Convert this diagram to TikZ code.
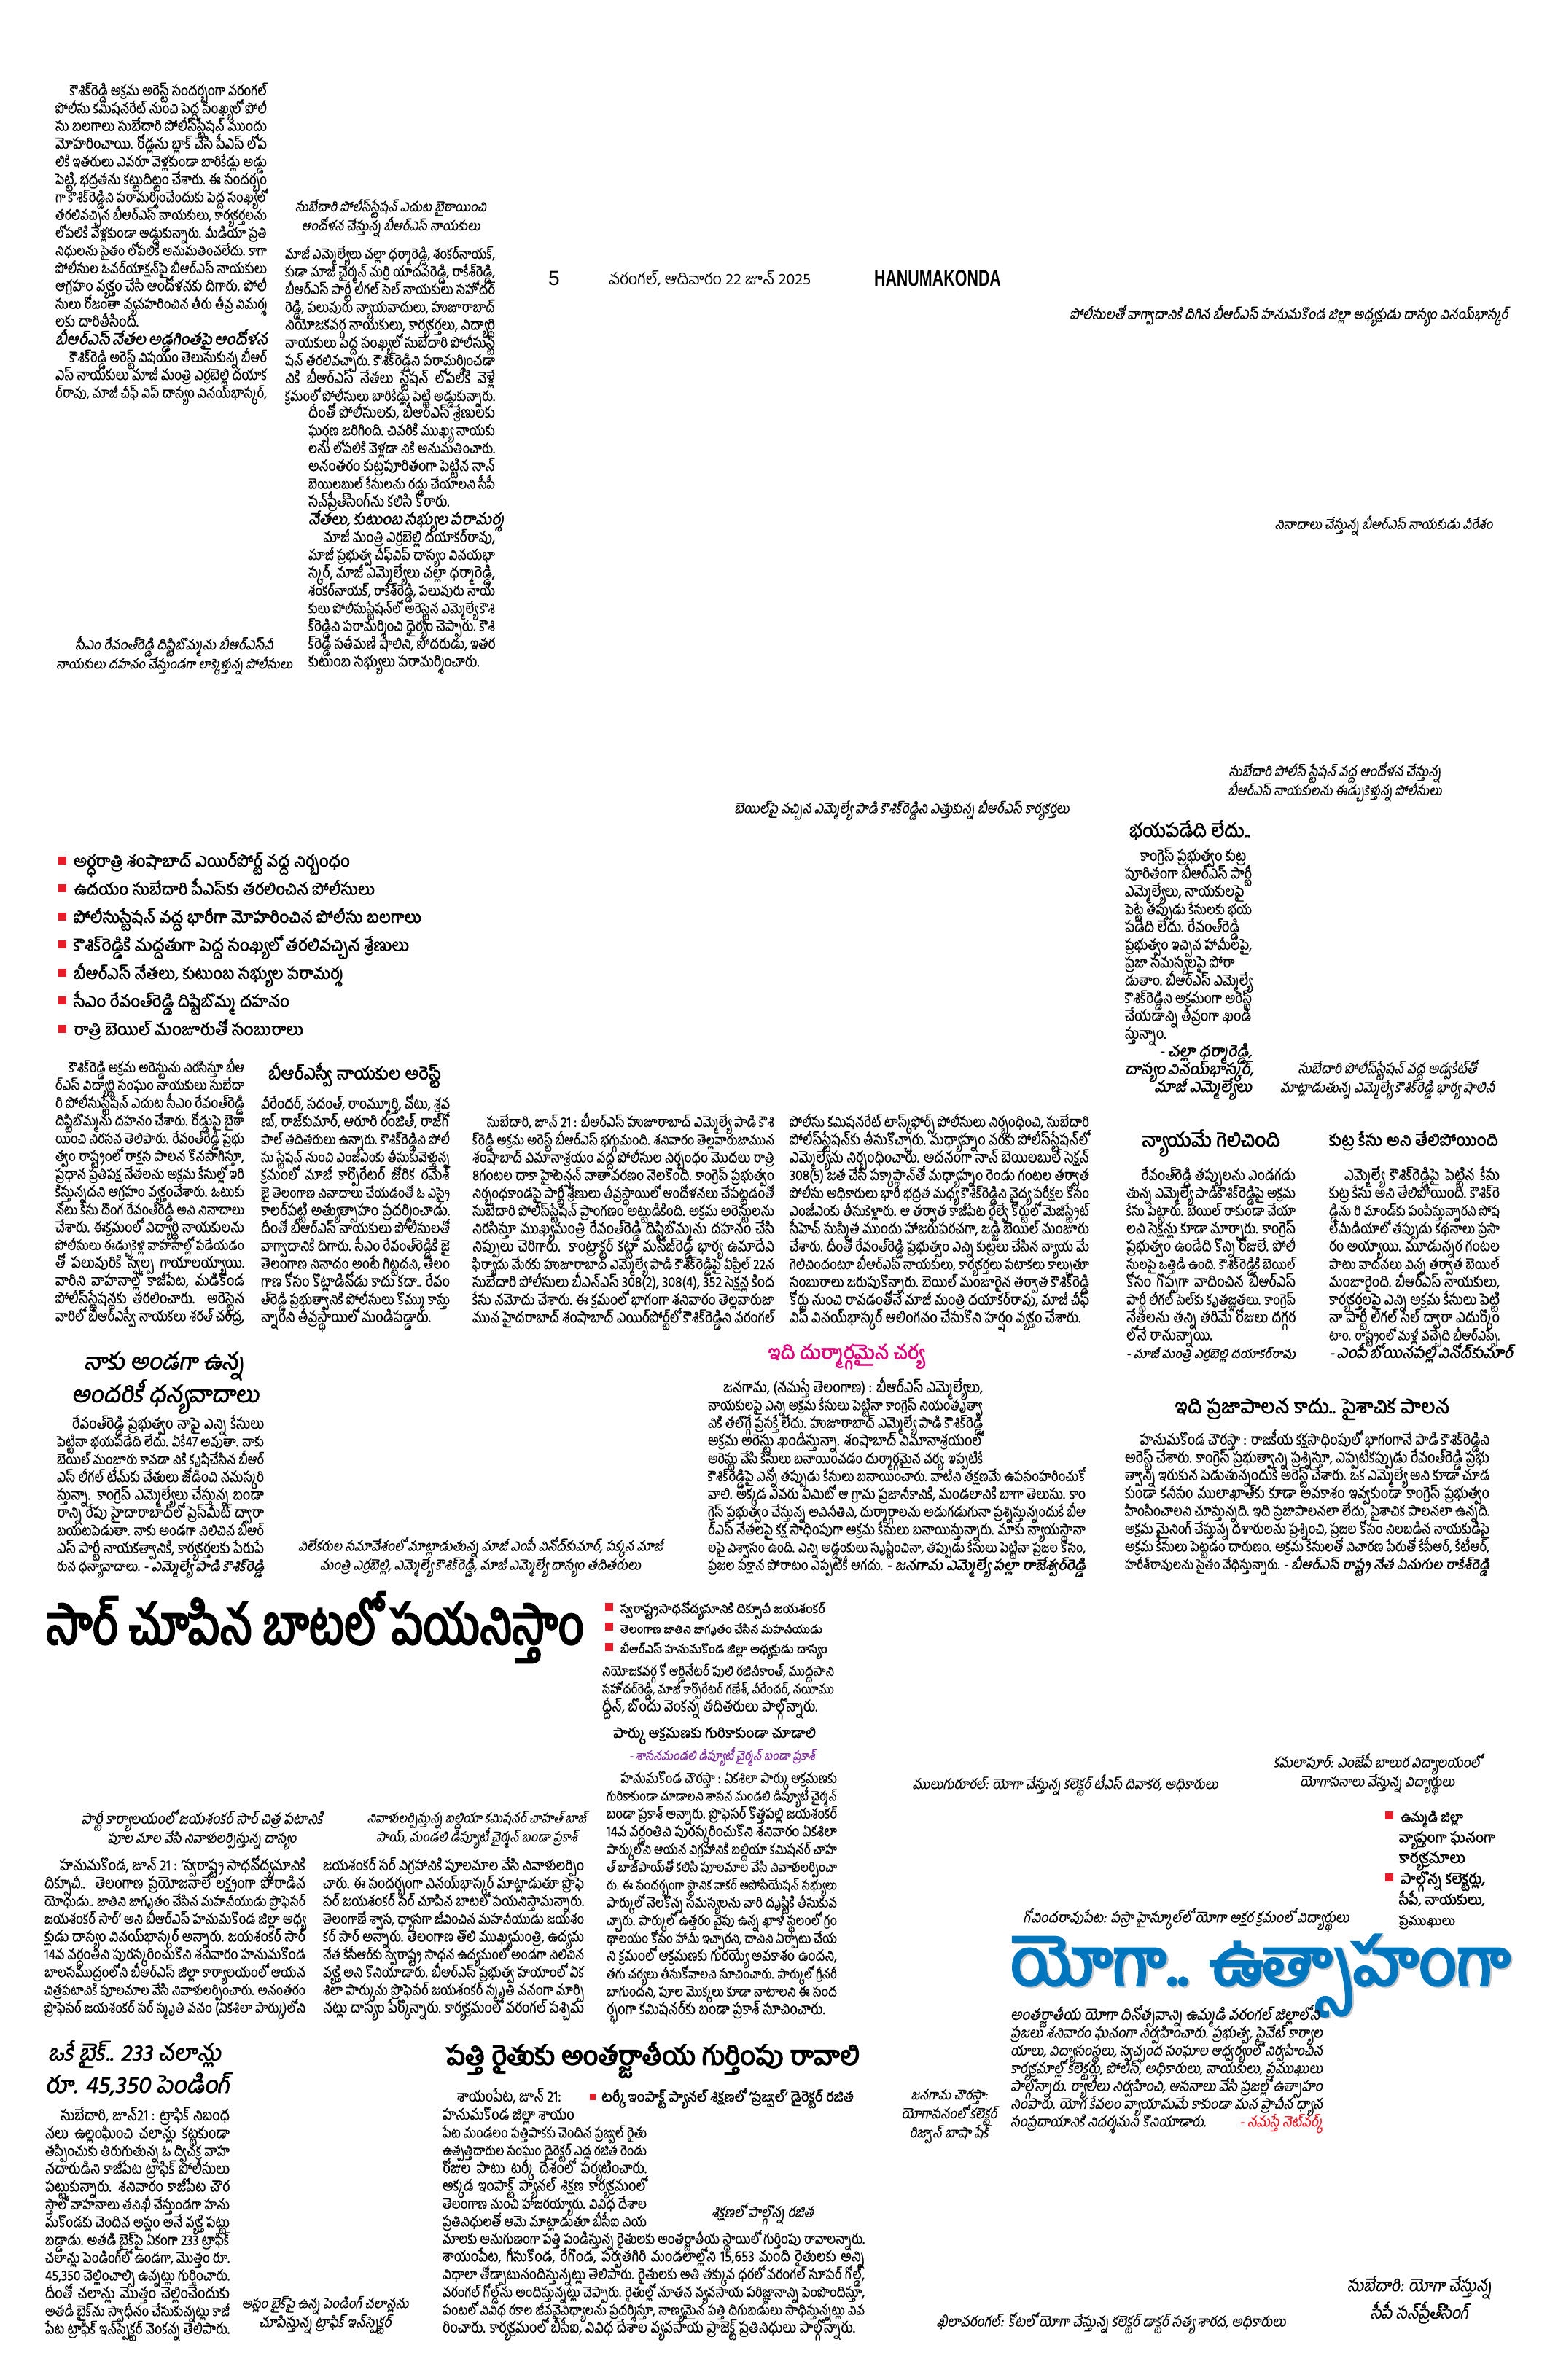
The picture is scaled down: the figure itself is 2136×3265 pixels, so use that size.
\documentclass[tikz,border=0pt]{standalone}
\usepackage{fontspec}
\usepackage{graphicx}
\newfontfamily\tel[Script=Telugu,FakeStretch=0.86,FakeBold=0.6]{Hind Guntur}
\newfontfamily\telsl[Script=Telugu,FakeStretch=0.9,FakeSlant=0.18,FakeBold=0.5]{Hind Guntur}
\newfontfamily\telhd[Script=Telugu]{Hind Guntur}
\newfontfamily\telbf[Script=Telugu,FakeBold=2.2]{Hind Guntur}
\newfontfamily\telbfsl[Script=Telugu,FakeBold=2,FakeSlant=0.18]{Hind Guntur}
\newfontfamily\telblack[Script=Telugu,FakeBold=4]{Hind Guntur}
\newfontfamily\latsans{Liberation Sans}
\definecolor{nred}{RGB}{232,28,40}
\definecolor{nmag}{RGB}{226,0,122}
\definecolor{npur}{RGB}{128,40,160}
\definecolor{nblue}{RGB}{0,118,190}
\newsavebox\lnbox
\newcommand\jl[1]{\sbox\lnbox{#1}\ifdim\wd\lnbox>\hsize\hbox to\hsize{\resizebox{\hsize}{!}{\usebox\lnbox}}\else\hbox to\hsize{\unhbox\lnbox}\fi}
\newcommand\jn[1]{\sbox\lnbox{#1}\ifdim\wd\lnbox>\hsize\hbox to\hsize{\resizebox{\hsize}{!}{\usebox\lnbox}}\else\hbox to\hsize{\unhbox\lnbox\hfil}\fi}
\newcommand\jc[1]{\hbox to\hsize{\hfil#1\hfil}}
\newcommand\jr[1]{\hbox to\hsize{\hfil#1}}
\newcommand\blk[2]{\vtop{\hsize=#1\relax#2}}
\newcommand\fbody{\tel\fontsize{6}{6.94}\selectfont\lineskiplimit=-20pt\lineskip=0pt}
\newcommand\fcap{\telsl\fontsize{6.2}{7.4}\selectfont\lineskiplimit=-20pt\lineskip=0pt}
\newcommand\fhead{\telbf\fontsize{10}{12}\selectfont}
\newcommand\sig{\telbfsl}
\newcommand\bsq{\makebox[2.1mm][l]{\textcolor{nred}{\rule[0.3mm]{1.1mm}{1.1mm}}}}
\newcommand\fitw[2]{\resizebox{#1}{!}{#2}}

\begin{document}
\begin{tikzpicture}[x=0.1mm,y=-0.1mm,
  every node/.style={inner sep=0pt,outer sep=0pt},
  body/.style={anchor=base west,font=\fbody},
  photocap/.style={align=center,font=\fcap},
  head/.style={anchor=west,font=\fhead},
  bullets/.style={anchor=base west,font={\telbf\fontsize{8.5}{10.95}\selectfont\lineskiplimit=-20pt}}]
\useasboundingbox (0,0) rectangle (2136,3265);
\fill[white] (0,0) rectangle (2136,3265);

\node[anchor=west,font=\latsans\fontsize{8}{8}\selectfont] (pageNo) at (752,382) {5};
\node[anchor=west,font=\telhd\fontsize{8}{8}\selectfont] (dateLine) at (835,382) {\fitw{27.7mm}{వరంగల్, ఆదివారం 22 జూన్ 2025}};
\node[anchor=west] (edition) at (1199,382) {\resizebox{17.4mm}{2.2mm}{\latsans\bfseries HANUMAKONDA}};

\node[body] (topLeft) at (76,131) {\blk{29mm}{%
\jl{\hspace*{1em}కౌశిక్‌రెడ్డి అక్రమ అరెస్ట్ సందర్భంగా వరంగల్}
\jl{పోలీసు కమిషనరేట్ నుంచి పెద్ద సంఖ్యలో పోలీ}
\jl{సు బలగాలు సుబేదారి పోలీస్‌స్టేషన్ ముందు}
\jl{మోహరించాయి. రోడ్లను బ్లాక్ చేసి పీఎస్ లోప}
\jl{లికి ఇతరులు ఎవరూ వెళ్లకుండా బారికేడ్లు అడ్డు}
\jl{పెట్టి, భద్రతను కట్టుదిట్టం చేశారు. ఈ సందర్భం}
\jl{గా కౌశిక్‌రెడ్డిని పరామర్శించేందుకు పెద్ద సంఖ్యలో}
\jl{తరలివచ్చిన బీఆర్‌ఎస్ నాయకులు, కార్యకర్తలను}
\jl{లోపలికి వెళ్లకుండా అడ్డుకున్నారు. మీడియా ప్రతి}
\jl{నిధులను సైతం లోపలికి అనుమతించలేదు. కాగా}
\jl{పోలీసుల ఓవర్‌యాక్షన్‌పై బీఆర్‌ఎస్ నాయకులు}
\jl{ఆగ్రహం వ్యక్తం చేసి ఆందోళనకు దిగారు. పోలీ}
\jl{సులు రోజంతా వ్యవహరించిన తీరు తీవ్ర విమర్శ}
\jn{లకు దారితీసింది.}
\jc{\sig బీఆర్‌ఎస్ నేతల అడ్డగింతపై ఆందోళన}
\jl{\hspace*{1em}కౌశిక్‌రెడ్డి అరెస్ట్ విషయం తెలుసుకున్న బీఆర్}
\jl{ఎస్ నాయకులు మాజీ మంత్రి ఎర్రబెల్లి దయాక}
\jl{ర్‌రావు, మాజీ చీఫ్ విప్ దాస్యం వినయ్‌భాస్కర్,}}};

\node[photocap] (capEffigy) at (239,899) {\fitw{27.1mm}{సీఎం రేవంత్‌రెడ్డి దిష్టిబొమ్మను బీఆర్‌ఎస్‌వీ}\\\fitw{32.4mm}{నాయకులు దహనం చేస్తుండగా లాక్కెళ్తున్న పోలీసులు}};
\node[photocap] (capSitin) at (536,299) {\fitw{26.2mm}{సుబేదారి పోలీస్‌స్టేషన్ ఎదుట బైఠాయించి}\\\fitw{24.5mm}{ఆందోళన చేస్తున్న బీఆర్‌ఎస్ నాయకులు}};

\node[body] (midTop) at (391,355) {\blk{28.8mm}{%
\jl{మాజీ ఎమ్మెల్యేలు చల్లా ధర్మారెడ్డి, శంకర్‌నాయక్,}
\jl{కుడా మాజీ చైర్మన్ మర్రి యాదవరెడ్డి, రాకేశ్‌రెడ్డి,}
\jl{బీఆర్‌ఎస్ పార్టీ లీగల్ సెల్ నాయకులు సహోదర్}
\jl{రెడ్డి, పలువురు న్యాయవాదులు, హుజూరాబాద్}
\jl{నియోజకవర్గ నాయకులు, కార్యకర్తలు, విద్యార్థి}
\jl{నాయకులు పెద్ద సంఖ్యలో సుబేదారి పోలీసుస్టే}
\jl{షన్ తరలివచ్చారు. కౌశిక్‌రెడ్డిని పరామర్శించడా}
\jl{నికి బీఆర్‌ఎస్ నేతలు స్టేషన్ లోపలికి వెళ్లే}
\jl{క్రమంలో పోలీసులు బారికేడ్లు పెట్టి అడ్డుకున్నారు.}}};
\node[body] (midLow) at (423,573) {\blk{25.6mm}{%
\jl{దీంతో పోలీసులకు, బీఆర్‌ఎస్ శ్రేణులకు}
\jl{ఘర్షణ జరిగింది. చివరికి ముఖ్య నాయకు}
\jl{లను లోపలికి వెళ్లడా నికి అనుమతించారు.}
\jl{అనంతరం కుట్రపూరితంగా పెట్టిన నాన్}
\jl{బెయిలబుల్ కేసులను రద్దు చేయాలని సీపీ}
\jn{సన్‌ప్రీత్‌సింగ్‌ను కలిసి కోరారు.}
\jc{\sig నేతలు, కుటుంబ సభ్యుల పరామర్శ}
\jl{\hspace*{1em}మాజీ మంత్రి ఎర్రబెల్లి దయాకర్‌రావు,}
\jl{మాజీ ప్రభుత్వ చీఫ్‌విప్ దాస్యం వినయభా}
\jl{స్కర్, మాజీ ఎమ్మెల్యేలు చల్లా ధర్మారెడ్డి,}
\jl{శంకర్‌నాయక్, రాకేశ్‌రెడ్డి, పలువురు నాయ}
\jl{కులు పోలీసుస్టేషన్‌లో అరెస్టైన ఎమ్మెల్యే కౌశి}
\jl{క్‌రెడ్డిని పరామర్శించి ధైర్యం చెప్పారు. కౌశి}
\jl{క్‌రెడ్డి సతీమణి షాలిని, సోదరుడు, ఇతర}
\jn{కుటుంబ సభ్యులు పరామర్శించారు.}}};

\node[photocap] (capArgue) at (1768,433) {\fitw{60.1mm}{పోలీసులతో వాగ్వాదానికి దిగిన బీఆర్‌ఎస్ హనుమకొండ జిల్లా అధ్యక్షుడు దాస్యం వినయ్‌భాస్కర్}};
\node[photocap] (capSlogan) at (1898,721) {\fitw{29.9mm}{నినాదాలు చేస్తున్న బీఆర్‌ఎస్ నాయకుడు వీరేశం}};
\node[photocap] (capLift) at (1237,1111) {\fitw{45.9mm}{బెయిల్‌పై వచ్చిన ఎమ్మెల్యే పాడి కౌశిక్‌రెడ్డిని ఎత్తుకున్న బీఆర్‌ఎస్ కార్యకర్తలు}};
\node[photocap] (capDrag) at (1831,1073) {\fitw{29.1mm}{సుబేదారి పోలీస్ స్టేషన్ వద్ద ఆందోళన చేస్తున్న}\\\fitw{29.3mm}{బీఆర్‌ఎస్ నాయకులను ఈడ్చుకెళ్తున్న పోలీసులు}};

\node[bullets] (keyPoints) at (80,1189) {\blk{60mm}{%
\jn{\bsq\fitw{37.9mm}{అర్ధరాత్రి శంషాబాద్ ఎయిర్‌పోర్ట్ వద్ద నిర్బంధం}}
\jn{\bsq\fitw{41.3mm}{ఉదయం సుబేదారి పీఎస్‌కు తరలించిన పోలీసులు}}
\jn{\bsq\fitw{47.7mm}{పోలీసుస్టేషన్ వద్ద భారీగా మోహరించిన పోలీసు బలగాలు}}
\jn{\bsq\fitw{46mm}{కౌశిక్‌రెడ్డికి మద్దతుగా పెద్ద సంఖ్యలో తరలివచ్చిన శ్రేణులు}}
\jn{\bsq\fitw{36.9mm}{బీఆర్‌ఎస్ నేతలు, కుటుంబ సభ్యుల పరామర్శ}}
\jn{\bsq\fitw{29.6mm}{సీఎం రేవంత్‌రెడ్డి దిష్టిబొమ్మ దహనం}}
\jn{\bsq\fitw{31.5mm}{రాత్రి బెయిల్ మంజూరుతో సంబురాలు}}}};

\node[body] (colA) at (76,1471) {\blk{25.9mm}{%
\jl{\hspace*{1em}కౌశిక్‌రెడ్డి అక్రమ అరెస్టును నిరసిస్తూ బీఆ}
\jl{ర్‌ఎస్ విద్యార్థి సంఘం నాయకులు సుబేదా}
\jl{రి పోలీసుస్టేషన్ ఎదుట సీఎం రేవంత్‌రెడ్డి}
\jl{దిష్టిబొమ్మను దహనం చేశారు. రోడ్డుపై బైఠా}
\jl{యించి నిరసన తెలిపారు. రేవంత్‌రెడ్డి ప్రభు}
\jl{త్వం రాష్ట్రంలో రాక్షస పాలన కొనసాగిస్తూ,}
\jl{ప్రధాన ప్రతిపక్ష నేతలను అక్రమ కేసుల్లో ఇరి}
\jl{కిస్తున్నదని ఆగ్రహం వ్యక్తంచేశారు. ఓటుకు}
\jl{నోటు కేసు దొంగ రేవంత్‌రెడ్డి అని నినాదాలు}
\jl{చేశారు. ఈక్రమంలో విద్యార్థి నాయకులను}
\jl{పోలీసులు ఈడ్చుకెళ్లి వాహనాల్లో పడేయడం}
\jl{తో పలువురికి స్వల్ప గాయాలయ్యాయి.}
\jl{వారిని వాహనాల్లో కాజీపేట, మడికొండ}
\jl{పోలీస్‌స్టేషన్లకు తరలించారు. అరెస్టైన}
\jl{వారిలో బీఆర్‌ఎస్వీ నాయకలు శరత్ చంద్ర,}}};
\node[head] (hdArrest) at (368,1475) {\fitw{23.7mm}{బీఆర్‌ఎస్వీ నాయకుల అరెస్ట్}};
\node[body] (colB) at (358,1521) {\blk{25.9mm}{%
\jl{వీరేందర్, సదంత్, రాంమ్మూర్తి, చోటు, శ్రవ}
\jl{ణ్, రాజ్‌కుమార్, ఆరూరి రంజిత్, రాజ్‌గో}
\jl{పాల్ తదితరులు ఉన్నారు. కౌశిక్‌రెడ్డిని పోలీ}
\jl{సు స్టేషన్ నుంచి ఎంజీఎంకు తీసుకువెళ్తున్న}
\jl{క్రమంలో మాజీ కార్పొరేటర్ జోరిక రమేశ్}
\jl{జై తెలంగాణ నినాదాలు చేయడంతో ఓ ఎస్సై}
\jl{కాలర్‌పట్టి అత్యుత్సాహం ప్రదర్శించాడు.}
\jl{దీంతో బీఆర్‌ఎస్ నాయకులు పోలీసులతో}
\jl{వాగ్వాదానికి దిగారు. సీఎం రేవంత్‌రెడ్డికి జై}
\jl{తెలంగాణ నినాదం అంటే గిట్టదని, తెలం}
\jl{గాణ కోసం కొట్లాడినోడు కాదు కదా.. రేవం}
\jl{త్‌రెడ్డి ప్రభుత్వానికి పోలీసులు కొమ్ము కాస్తు}
\jn{న్నారని తీవ్రస్థాయిలో మండిపడ్డారు.}}};
\node[body] (colC) at (648,1546) {\blk{41.4mm}{%
\jl{\hspace*{1em}సుబేదారి, జూన్ 21 : బీఆర్‌ఎస్ హుజూరాబాద్ ఎమ్మెల్యే పాడి కౌశి}
\jl{క్‌రెడ్డి అక్రమ అరెస్ట్ బీఆర్‌ఎస్ భగ్గుమంది. శనివారం తెల్లవారుజామున}
\jl{శంషాబాద్ విమానాశ్రయం వద్ద పోలీసుల నిర్బంధం మొదలు రాత్రి}
\jl{8గంటల దాకా హైటెన్షన్ వాతావరణం నెలకొంది. కాంగ్రెస్ ప్రభుత్వం}
\jl{నిర్బంధకాండపై పార్టీ శ్రేణులు తీవ్రస్థాయిలో ఆందోళనలు చేపట్టడంతో}
\jl{సుబేదారి పోలీస్‌స్టేషన్ ప్రాంగణం అట్టుడికింది. అక్రమ అరెస్టులను}
\jl{నిరసిస్తూ ముఖ్యమంత్రి రేవంత్‌రెడ్డి దిష్టిబొమ్మను దహనం చేసి}
\jl{నిప్పులు చెరిగారు. కాంట్రాక్టర్ కట్టా మనోజ్‌రెడ్డి భార్య ఉమాదేవి}
\jl{ఫిర్యాదు మేరకు హుజూరాబాద్ ఎమ్మెల్యే పాడి కౌశిక్‌రెడ్డిపై ఏప్రిల్ 22న}
\jl{సుబేదారి పోలీసులు బీఎన్‌ఎస్ 308(2), 308(4), 352 సెక్షన్ల కింద}
\jl{కేసు నమోదు చేశారు. ఈ క్రమంలో భాగంగా శనివారం తెల్లవారుజా}
\jl{మున హైదరాబాద్ శంషాబాద్ ఎయిర్‌పోర్ట్‌లో కౌశిక్‌రెడ్డిని వరంగల్}}};
\node[body] (colD) at (1083,1546) {\blk{41.1mm}{%
\jl{పోలీసు కమిషనరేట్ టాస్క్‌ఫోర్స్ పోలీసులు నిర్బంధించి, సుబేదారి}
\jl{పోలీస్‌స్టేషన్‌కు తీసుకొచ్చారు. మధ్యాహ్నం వరకు పోలీస్‌స్టేషన్‌లో}
\jl{ఎమ్మెల్యేను నిర్బంధించారు. అదనంగా నాన్ బెయిలబుల్ సెక్షన్}
\jl{308(5) జత చేసి పక్కాప్లాన్‌తో మధ్యాహ్నం రెండు గంటల తర్వాత}
\jl{పోలీసు అధికారులు భారీ భద్రత మధ్య కౌశిక్‌రెడ్డిని వైద్య పరీక్షల కోసం}
\jl{ఎంజీఎంకు తీసుకెళ్లారు. ఆ తర్వాత కాజీపేట రైల్వే కోర్టులో మెజిస్ట్రేట్}
\jl{సీహెచ్ సుస్మిత ముందు హాజరుపరచగా, జడ్జి బెయిల్ మంజూరు}
\jl{చేశారు. దీంతో రేవంత్‌రెడ్డి ప్రభుత్వం ఎన్ని కుట్రలు చేసిన న్యాయ మే}
\jl{గెలిచిందంటూ బీఆర్‌ఎస్ నాయకులు, కార్యకర్తలు పటాకలు కాల్చుతూ}
\jl{సంబురాలు జరుపుకొన్నారు. బెయిల్ మంజూరైన తర్వాత కౌశిక్‌రెడ్డి}
\jl{కోర్టు నుంచి రావడంతోనే మాజీ మంత్రి దయాకర్‌రావు, మాజీ చీఫ్}
\jn{విప్ వినయ్‌భాస్కర్ ఆలింగనం చేసుకొని హర్షం వ్యక్తం చేశారు.}}};

\node[head] (hdFear) at (1549,1139) {\fitw{16.6mm}{భయపడేది లేదు..}};
\node[body] (fearText) at (1543,1181) {\blk{17.4mm}{%
\jn{\hspace*{1em}కాంగ్రెస్ ప్రభుత్వం కుట్ర}
\jn{పూరితంగా బీఆర్‌ఎస్ పార్టీ}
\jn{ఎమ్మెల్యేలు, నాయకులపై}
\jn{పెట్టే తప్పుడు కేసులకు భయ}
\jn{పడేది లేదు. రేవంత్‌రెడ్డి}
\jn{ప్రభుత్వం ఇచ్చిన హామీలపై,}
\jn{ప్రజా సమస్యలపై పోరా}
\jn{డుతాం. బీఆర్‌ఎస్ ఎమ్మెల్యే}
\jn{కౌశిక్‌రెడ్డిని అక్రమంగా అరెస్ట్}
\jn{చేయడాన్ని తీవ్రంగా ఖండి}
\jn{స్తున్నాం.}
\jr{\sig - చల్లా ధర్మారెడ్డి,}
\jr{\sig దాస్యం వినయ్‌భాస్కర్,}
\jr{\sig మాజీ ఎమ్మెల్యేలు}}};
\node[photocap] (capWife) at (1903,1481) {\fitw{24.5mm}{సుబేదారి పోలీస్‌స్టేషన్ వద్ద అడ్వకేట్‌తో}\\\fitw{29.4mm}{మాట్లాడుతున్న ఎమ్మెల్యే కౌశిక్‌రెడ్డి భార్య షాలినీ}};

\node[head] (hdJustice) at (1566,1568) {\fitw{19mm}{న్యాయమే గెలిచింది}};
\node[body] (justiceText) at (1545,1619) {\blk{23.2mm}{%
\jl{\hspace*{1em}రేవంత్‌రెడ్డి తప్పులను ఎండగడు}
\jl{తున్న ఎమ్మెల్యే పాడికౌశిక్‌రెడ్డిపై అక్రమ}
\jl{కేసు పెట్టారు. బెయిల్ రాకుండా చేయా}
\jl{లని సెక్షన్లు కూడా మార్చారు. కాంగ్రెస్}
\jl{ప్రభుత్వం ఉండేది కొన్ని రోజులే. పోలీ}
\jl{సులపై ఒత్తిడి ఉంది. కౌశిక్‌రెడ్డికి బెయిల్}
\jl{కోసం గొప్పగా వాదించిన బీఆర్‌ఎస్}
\jl{పార్టీ లీగల్ సెల్‌కు కృతజ్ఞతలు. కాంగ్రెస్}
\jl{నేతలను తన్ని తరిమే రోజులు దగ్గర}
\jn{లోనే రానున్నాయి.}
\jn{\sig - మాజీ మంత్రి ఎర్రబెల్లి దయాకర్‌రావు}}};

\node[head] (hdPlot) at (1823,1565) {\fitw{23.2mm}{కుట్ర కేసు అని తేలిపోయింది}};
\node[body] (plotText) at (1823,1619) {\blk{23.4mm}{%
\jl{\hspace*{1em}ఎమ్మెల్యే కౌశిక్‌రెడ్డిపై పెట్టిన కేసు}
\jl{కుట్ర కేసు అని తేలిపోయింది. కౌశిక్‌రె}
\jl{డ్డిను రి మాండ్‌కు పంపిస్తున్నారని సోష}
\jl{ల్‌మీడియాలో తప్పుడు కథనాలు ప్రసా}
\jl{రం అయ్యాయి. మూడున్నర గంటల}
\jl{పాటు వాదనలు విన్న తర్వాత బెయిల్}
\jl{మంజూరైంది. బీఆర్‌ఎస్ నాయకులు,}
\jl{కార్యకర్తలపై ఎన్ని అక్రమ కేసులు పెట్టి}
\jl{నా పార్టీ లీగల్ సెల్ ద్వారా ఎదుర్కొం}
\jn{టాం. రాష్ట్రంలో మళ్లీ వచ్చేది బీఆర్‌ఎస్సే.}
\jc{\sig - ఎంపీ బోయినపల్లి వినోద్‌కుమార్}}};

\node[head] (hdThanks1) at (115,1874) {\fitw{22mm}{\telbfsl నాకు అండగా ఉన్న}};
\node[head] (hdThanks2) at (98,1916) {\fitw{25.7mm}{\telbfsl అందరికీ ధన్యవాదాలు}};
\node[body] (thanksText) at (78,1960) {\blk{28.4mm}{%
\jl{\hspace*{1em}రేవంత్‌రెడ్డి ప్రభుత్వం నాపై ఎన్ని కేసులు}
\jl{పెట్టినా భయపడేది లేదు. ఏకే47 అవుతా. నాకు}
\jl{బెయిల్ మంజూరు కావడా నికి కృషిచేసిన బీఆర్}
\jl{ఎస్ లీగల్ టీమ్‌కు చేతులు జోడించి నమస్కరి}
\jl{స్తున్నా. కాంగ్రెస్ ఎమ్మెల్యేలు చేస్తున్న బండా}
\jl{రాన్ని రేపు హైదారాబాద్‌లో ప్రెస్‌మీట్ ద్వారా}
\jl{బయటపెడుతా. నాకు అండగా నిలిచిన బీఆర్}
\jl{ఎస్ పార్టీ నాయకత్వానికి, కార్యకర్తలకు పేరుపే}
\jl{రున ధన్యావాదాలు. \hfill{\sig - ఎమ్మెల్యే పాడి కౌశిక్‌రెడ్డి}}}};

\node[head,text=nmag] (hdCruel) at (1054,1861) {\fitw{21.3mm}{ఇది దుర్మార్గమైన చర్య}};
\node[body] (cruelTop) at (971,1910) {\blk{37.7mm}{%
\jl{\hspace*{1em}జనగామ, (నమస్తే తెలంగాణ) : బీఆర్‌ఎస్ ఎమ్మెల్యేలు,}
\jl{నాయకులపై ఎన్ని అక్రమ కేసులు పెట్టినా కాంగ్రెస్ నియంతృత్వా}
\jl{నికి తలొగ్గే ప్రసక్తే లేదు. హుజూరాబాద్ ఎమ్మెల్యే పాడి కౌశిక్‌రెడ్డి}
\jl{అక్రమ అరెస్టు ఖండిస్తున్నా. శంషాబాద్ విమానాశ్రయంలో}
\jl{అరెస్టు చేసి కేసులు బనాయించడం దుర్మార్గమైన చర్య. ఇప్పటికే}}};
\node[body] (cruelLow) at (971,2032) {\blk{51.8mm}{%
\jl{కౌశిక్‌రెడ్డిపై ఎన్నో తప్పుడు కేసులు బనాయించారు. వాటిని తక్షణమే ఉపసంహరించుకో}
\jl{వాలి. అక్కడ ఎవరు ఏమిటో ఆ గ్రామ ప్రజానీకానికి, మండలానికి బాగా తెలుసు. కాం}
\jl{గ్రెస్ ప్రభుత్వం చేస్తున్న అవినీతిని, దుర్మార్గాలను అడుగడుగునా ప్రశ్నిస్తున్నందుకే బీఆ}
\jl{ర్‌ఎస్ నేతలపై కక్ష సాధింపుగా అక్రమ కేసులు బనాయిస్తున్నారు. మాకు న్యాయస్థానా}
\jl{లపై విశ్వాసం ఉంది. ఎన్ని అడ్డంకులు సృష్టించినా, తప్పుడు కేసులు పెట్టినా ప్రజల కోసం,}
\jl{ప్రజల పక్షాన పోరాటం ఎప్పటికీ ఆగదు. \hfill{\sig - జనగామ ఎమ్మెల్యే పల్లా రాజేశ్వర్‌రెడ్డి}}}};

\node[head] (hdDemon) at (1612,1933) {\fitw{37.6mm}{ఇది ప్రజాపాలన కాదు.. పైశాచిక పాలన}};
\node[body] (demonText) at (1543,1982) {\blk{50mm}{%
\jl{\hspace*{1em}హనుమకొండ చౌరస్తా : రాజకీయ కక్షసాధింపులో భాగంగానే పాడి కౌశిక్‌రెడ్డిని}
\jl{అరెస్ట్ చేశారు. కాంగ్రెస్ ప్రభుత్వాన్ని ప్రశ్నిస్తూ, ఎప్పటికప్పుడు రేవంత్‌రెడ్డి ప్రభు}
\jl{త్వాన్ని ఇరుకున పెడుతున్నందుకే అరెస్ట్ చేశారు. ఒక ఎమ్మెల్యే అని కూడా చూడ}
\jl{కుండా కనీసం ములాఖాత్‌కు కూడా అవకాశం ఇవ్వకుండా కాంగ్రెస్ ప్రభుత్వం}
\jl{హింసించాలని చూస్తున్నది. ఇది ప్రజాపాలనలా లేదు, పైశాచిక పాలనలా ఉన్నది.}
\jl{అక్రమ మైనింగ్ చేస్తున్న దళారులను ప్రశ్నించి, ప్రజల కోసం నిలబడిన నాయకుడిపై}
\jl{అక్రమ కేసులు పెట్టడం దారుణం. అక్రమ కేసులతో విచారణ పేరుతో కేసీఆర్, కేటీఆర్,}
\jl{హరీశ్‌రావులను సైతం వేధిస్తున్నారు. \hfill{\sig - బీఆర్‌ఎస్ రాష్ట్ర నేత ఏనుగుల రాకేశ్‌రెడ్డి}}}};

\node[photocap] (capPress) at (659,2136) {\fitw{50mm}{విలేకరుల సమావేశంలో మాట్లాడుతున్న మాజీ ఎంపీ వినోద్‌కుమార్, పక్కన మాజీ}\\\fitw{44mm}{మంత్రి ఎర్రబెల్లి, ఎమ్మెల్యే కౌశిక్‌రెడ్డి, మాజీ ఎమ్మెల్యే దాస్యం తదితరులు}};

\node[head,font=\telblack\fontsize{10}{12}\selectfont] (hdSir) at (63,2232) {\scalebox{1}[1.22]{\fitw{73.8mm}{సార్ చూపిన బాటలో పయనిస్తాం}}};
\node[anchor=base west,font={\telbf\fontsize{7.6}{7.8}\selectfont\lineskiplimit=-20pt}] (sirPoints) at (830,2213) {\blk{31mm}{%
\jn{\bsq\fitw{28.1mm}{స్వరాష్ట్రసాధనోద్యమానికి దిక్సూచీ జయశంకర్}}
\jn{\bsq\fitw{27.7mm}{తెలంగాణ జాతిని జాగృతం చేసిన మహనీయుడు}}
\jn{\bsq\fitw{28.4mm}{బీఆర్‌ఎస్ హనుమకొండ జిల్లా అధ్యక్షుడు దాస్యం}}}};
\node[body] (parkPre) at (826,2299) {\blk{31.8mm}{%
\jl{నియోజకవర్గ కో ఆర్డినేటర్ పులి రజినీకాంత్, ముద్దసాని}
\jl{సహోదర్‌రెడ్డి, మాజీ కార్పొరేటర్ గణేశ్, వీరేందర్, నయీము}
\jn{ద్దీన్, బొందు వెంకన్న తదితరులు పాల్గొన్నారు.}}};
\node[head] (hdPark) at (841,2381) {\fitw{27.8mm}{పార్కు ఆక్రమణకు గురికాకుండా చూడాలి}};
\node[anchor=west,text=npur,font=\telsl\fontsize{7}{7}\selectfont] (parkBy) at (863,2410) {\fitw{25.5mm}{- శాసనమండలి డిప్యూటీ చైర్మన్ బండా ప్రకాశ్}};
\node[body] (parkText) at (832,2446) {\blk{31.6mm}{%
\jl{\hspace*{1em}హనుమకొండ చౌరస్తా : ఏకశిలా పార్కు ఆక్రమణకు}
\jl{గురికాకుండా చూడాలని శాసన మండలి డిప్యూటీ చైర్మన్}
\jl{బండా ప్రకాశ్ అన్నారు. ప్రొఫెసర్ కొత్తపల్లి జయశంకర్}
\jl{14వ వర్ధంతిని పురస్కరించుకొని శనివారం ఏకశిలా}
\jl{పార్కులోని ఆయన విగ్రహానికి బల్దియా కమిషనర్ చాహ}
\jl{త్ బాజ్‌పాయ్‌తో కలిసి పూలమాల వేసి నివాళులర్పించా}
\jl{రు. ఈ సందర్భంగా స్థానిక వాకర్ అసోసియేషన్ సభ్యులు}
\jl{పార్కులో నెలకొన్న సమస్యలను వారి దృష్టికి తీసుకువ}
\jl{చ్చారు. పార్కులో ఉత్తరం వైపు ఉన్న ఖాళీ స్థలంలో గ్రం}
\jl{థాలయం కోసం హామీ ఇచ్చారని, దానిని ఏర్పాటు చేయ}
\jl{ని క్రమంలో ఆక్రమణకు గురయ్యే అవకాశం ఉందని,}
\jl{తగు చర్యలు తీసుకోవాలని సూచించారు. పార్కులో గ్రీనరీ}
\jl{బాగుందని, పూల మొక్కలు కూడా నాటాలని ఈ సంద}
\jn{ర్భంగా కమిషనర్‌కు బండా ప్రకాశ్ సూచించారు.}}};

\node[photocap] (capOffice) at (277,2510) {\fitw{33.1mm}{పార్టీ కార్యాలయంలో జయశంకర్ సార్ చిత్ర పటానికి}\\\fitw{25.9mm}{పూల మాల వేసి నివాళులర్పిస్తున్న దాస్యం}};
\node[photocap] (capStatue) at (654,2510) {\fitw{30.1mm}{నివాళులర్పిస్తున్న బల్దియా కమిషనర్ చాహత్ బాజ్}\\\fitw{27.6mm}{పాయ్, మండలి డిప్యూటీ చైర్మన్ బండా ప్రకాశ్}};
\node[body] (sirCol1) at (61,2566) {\blk{35.8mm}{%
\jl{\hspace*{1em}హనుమకొండ, జూన్ 21 : ‘స్వరాష్ట్ర సాధనోద్యమానికి}
\jl{దిక్సూచీ.. తెలంగాణ ప్రయోజనాలే లక్ష్యంగా పోరాడిన}
\jl{యోధుడు.. జాతిని జాగృతం చేసిన మహనీయుడు ప్రొఫెసర్}
\jl{జయశంకర్ సార్’ అని బీఆర్‌ఎస్ హనుమకొండ జిల్లా అధ్య}
\jl{క్షుడు దాస్యం వినయ్‌భాస్కర్ అన్నారు. జయశంకర్ సార్}
\jl{14వ వర్ధంతిని పురస్కరించుకొని శనివారం హనుమకొండ}
\jl{బాలసముద్రంలోని బీఆర్‌ఎస్ జిల్లా కార్యాలయంలో ఆయన}
\jl{చిత్రపటానికి పూలమాల వేసి నివాళులర్పించారు. అనంతరం}
\jl{ప్రొఫెసర్ జయశంకర్ సర్ స్మృతి వనం (ఏకశిలా పార్కు)లోని}}};
\node[body] (sirCol2) at (443,2566) {\blk{35.8mm}{%
\jl{జయశంకర్ సర్ విగ్రహానికి పూలమాల వేసి నివాళులర్పిం}
\jl{చారు. ఈ సందర్భంగా వినయ్‌భాస్కర్ మాట్లాడుతూ ప్రొఫె}
\jl{సర్ జయశంకర్ సర్ చూపిన బాటలో పయనిస్తామన్నారు.}
\jl{తెలంగాణే శ్వాస, ధ్యాసగా జీవించిన మహనీయుడు జయశం}
\jl{కర్ సార్ అన్నారు. తెలంగాణ తొలి ముఖ్యమంత్రి, ఉద్యమ}
\jl{నేత కేసీఆర్‌కు స్వరాష్ట్ర సాధన ఉద్యమంలో అండగా నిలిచిన}
\jl{వ్యక్తి అని కొనియాడారు. బీఆర్‌ఎస్ ప్రభుత్వ హయాంలో ఏక}
\jl{శిలా పార్కును ప్రొఫెసర్ జయశంకర్ స్మృతి వనంగా మార్చి}
\jl{నట్లు దాస్యం పేర్కొన్నారు. కార్యక్రమంలో వరంగల్ పశ్చిమ}}};

\node[head] (hdBike1) at (66,2818) {\fitw{23.7mm}{\telbfsl ఒకే బైక్.. 233 చలాన్లు}};
\node[head] (hdBike2) at (62,2859) {\fitw{25.3mm}{\telbfsl రూ. 45,350 పెండింగ్}};
\node[body] (bikeText) at (62,2909) {\blk{25.3mm}{%
\jl{\hspace*{1em}సుబేదారి, జూన్21 : ట్రాఫిక్ నిబంధ}
\jl{నలు ఉల్లంఘించి చలాన్లు కట్టకుండా}
\jl{తప్పించుకు తిరుగుతున్న ఓ ద్విచక్ర వాహ}
\jl{నదారుడిని కాజీపేట ట్రాఫిక్ పోలీసులు}
\jl{పట్టుకున్నారు. శనివారం కాజీపేట చౌర}
\jl{స్తాలో వాహనాలు తనిఖీ చేస్తుండగా హను}
\jl{మకొండకు చెందిన అస్లం అనే వ్యక్తి పట్టు}
\jl{బడ్డాడు. అతడి బైక్‌పై ఏకంగా 233 ట్రాఫిక్}
\jl{చలాన్లు పెండింగ్‌లో ఉండగా, మొత్తం రూ.}
\jl{45,350 చెల్లించాల్సి ఉన్నట్లు గుర్తించారు.}
\jl{దీంతో చలాన్లు మొత్తం చెల్లించేందుకు}
\jl{అతడి బైక్‌ను స్వాధీనం చేసుకున్నట్లు కాజీ}
\jn{పేట ట్రాఫిక్ ఇన్‌స్పెక్టర్ వెంకన్న తెలిపారు.}}};
\node[photocap] (capBike) at (446,3176) {\fitw{22.9mm}{అస్లం బైక్‌పై ఉన్న పెండింగ్ చలాన్లను}\\\fitw{18.1mm}{చూపిస్తున్న ట్రాఫిక్ ఇన్‌స్పెక్టర్}};

\node[head,font=\telblack\fontsize{10}{12}\selectfont] (hdCotton) at (612,2826) {\fitw{56.7mm}{పత్తి రైతుకు అంతర్జాతీయ గుర్తింపు రావాలి}};
\node[anchor=base west,font=\fbody] (cotDate) at (627,2883) {శాయంపేట, జూన్ 21:};
\node[anchor=base west,font=\telbf\fontsize{7}{7}\selectfont] (cotSub) at (809,2883) {\fitw{36.2mm}{\bsq టర్కీ ఇంపాక్ట్ ప్యానల్ శిక్షణలో ‘ప్రజ్వల్’ డైరెక్టర్ రజిత}};
\node[body] (cotNarrow) at (607,2908) {\blk{28mm}{%
\jn{హనుమకొండ జిల్లా శాయం}
\jl{పేట మండలం పత్తిపాకకు చెందిన ప్రజ్వల్ రైతు}
\jl{ఉత్పత్తిదారుల సంఘం డైరెక్టర్ ఎడ్ల రజిత రెండు}
\jl{రోజుల పాటు టర్కీ దేశంలో పర్యటించారు.}
\jl{అక్కడ ఇంపాక్ట్ ప్యానల్ శిక్షణ కార్యక్రమంలో}
\jl{తెలంగాణ నుంచి హాజరయ్యారు. వివిధ దేశాల}
\jl{ప్రతినిధులతో ఆమె మాట్లాడుతూ బీసీఐ నియ}}};
\node[body] (cotWide) at (607,3078) {\blk{57.9mm}{%
\jl{మాలకు అనుగుణంగా పత్తి పండిస్తున్న రైతులకు అంతర్జాతీయ స్థాయిలో గుర్తింపు రావాలన్నారు.}
\jl{శాయంపేట, గీసుకొండ, రేగొండ, పర్వతగిరి మండలాల్లోని 15,653 మంది రైతులకు అన్ని}
\jl{విధాలా తోడ్పాటునందిస్తున్నట్లు తెలిపారు. రైతులకు అతి తక్కువ ధరలో వరంగల్ సూపర్ గోల్డ్,}
\jl{వరంగల్ గోల్డ్‌ను అందిస్తున్నట్లు చెప్పారు. రైతుల్లో నూతన వ్యవసాయ పరిజ్ఞానాన్ని పెంపొందిస్తూ,}
\jl{పంటలో వివిధ రకాల జీవవైవిధ్యాలను ప్రదర్శిస్తూ, నాణ్యమైన పత్తి దిగుబడులు సాధిస్తున్నట్లు వివ}
\jn{రించారు. కార్యక్రమంలో బీసీఐ, వివిధ దేశాల వ్యవసాయ ప్రాజెక్ట్ ప్రతినిధులు పాల్గొన్నారు.}}};
\node[photocap] (capRajitha) at (1046,3037) {\fitw{14mm}{శిక్షణలో పాల్గొన్న రజిత}};

\node[photocap] (capMulugu) at (1461,2449) {\fitw{41.9mm}{ములుగురూరల్: యోగా చేస్తున్న కలెక్టర్ టీఎస్ దివాకర, అధికారులు}};
\node[photocap] (capKamala) at (1889,2434) {\fitw{28.4mm}{కమలాపూర్: ఎంజేపీ బాలుర విద్యాలయంలో}\\\fitw{21.2mm}{యోగాసనాలు వేస్తున్న విద్యార్థులు}};
\node[anchor=base west,font={\telbf\fontsize{7.4}{8.08}\selectfont\lineskiplimit=-20pt}] (yogaPoints) at (1900,2499) {\blk{26mm}{%
\jn{\bsq\fitw{8.6mm}{ఉమ్మడి జిల్లా}}
\jn{\hspace*{1.9mm}\fitw{13.2mm}{వ్యాప్తంగా ఘనంగా}}
\jn{\hspace*{1.9mm}\fitw{9.1mm}{కార్యక్రమాలు}}
\jn{\bsq\fitw{11.6mm}{పాల్గొన్న కలెక్టర్లు,}}
\jn{\hspace*{1.9mm}\fitw{11.8mm}{సీపీ, నాయకులు,}}
\jn{\hspace*{1.9mm}\fitw{7.7mm}{ప్రముఖులు}}}};
\node[photocap] (capGovinda) at (1627,2634) {\fitw{44.7mm}{గోవిందరావుపేట: పస్రా హైస్కూల్‌లో యోగా అక్షర క్రమంలో విద్యార్థులు}};
\node[head,font=\telblack\fontsize{10}{12}\selectfont] (yogaTitle) at (1386,2711) {\fitw{68.6mm}{\rlap{\hspace{0.09mm}\raisebox{-0.07mm}{\textcolor{black!22}{యోగా.. ఉత్సాహంగా}}}\textcolor{nblue}{యోగా.. ఉత్సాహంగా}}};
\node[body,font={\telsl\fontsize{6}{6.94}\selectfont\lineskiplimit=-20pt}] (yogaText) at (1386,2771) {\blk{42.8mm}{%
\jn{అంతర్జాతీయ యోగా దినోత్సవాన్ని ఉమ్మడి వరంగల్ జిల్లాలోని}
\jl{ప్రజలు శనివారం ఘనంగా నిర్వహించారు. ప్రభుత్వ, ప్రైవేట్ కార్యాల}
\jl{యాలు, విద్యాసంస్థలు, స్వచ్ఛంద సంఘాల ఆధ్వర్యంలో నిర్వహించిన}
\jl{కార్యక్రమాల్లో కలెక్టర్లు, పోలీస్, అధికారులు, నాయకులు, ప్రముఖులు}
\jl{పాల్గొన్నారు. ర్యాలీలు నిర్వహించి, ఆసనాలు వేసి ప్రజల్లో ఉత్సాహం}
\jl{నింపారు. యోగ కేవలం వ్యాయామమే కాకుండా మన ప్రాచీన ధ్యాన}
\jn{సంప్రదాయానికి నిదర్శమని కొనియాడారు.\hspace{5mm}{\color{nred}- నమస్తే నెట్‌వర్క్}}}};
\node[photocap] (capJangaon) at (1302,2903) {\fitw{10.5mm}{జనగామ చౌరస్తా:}\\\fitw{13.1mm}{యోగాసనంలో కలెక్టర్}\\\fitw{10.9mm}{రిజ్వాన్ బాషా షేక్}};
\node[photocap,font={\telsl\fontsize{8}{8.3}\selectfont}] (capCP) at (1947,3155) {\fitw{19.8mm}{సుబేదారి: యోగా చేస్తున్న}\\\fitw{13.4mm}{సీపీ సన్‌ప్రీత్‌సింగ్}};
\node[photocap] (capFort) at (1524,3187) {\fitw{47.9mm}{ఖిలావరంగల్: కోటలో యోగా చేస్తున్న కలెక్టర్ డాక్టర్ సత్య శారద, అధికారులు}};
\end{tikzpicture}
\end{document}
